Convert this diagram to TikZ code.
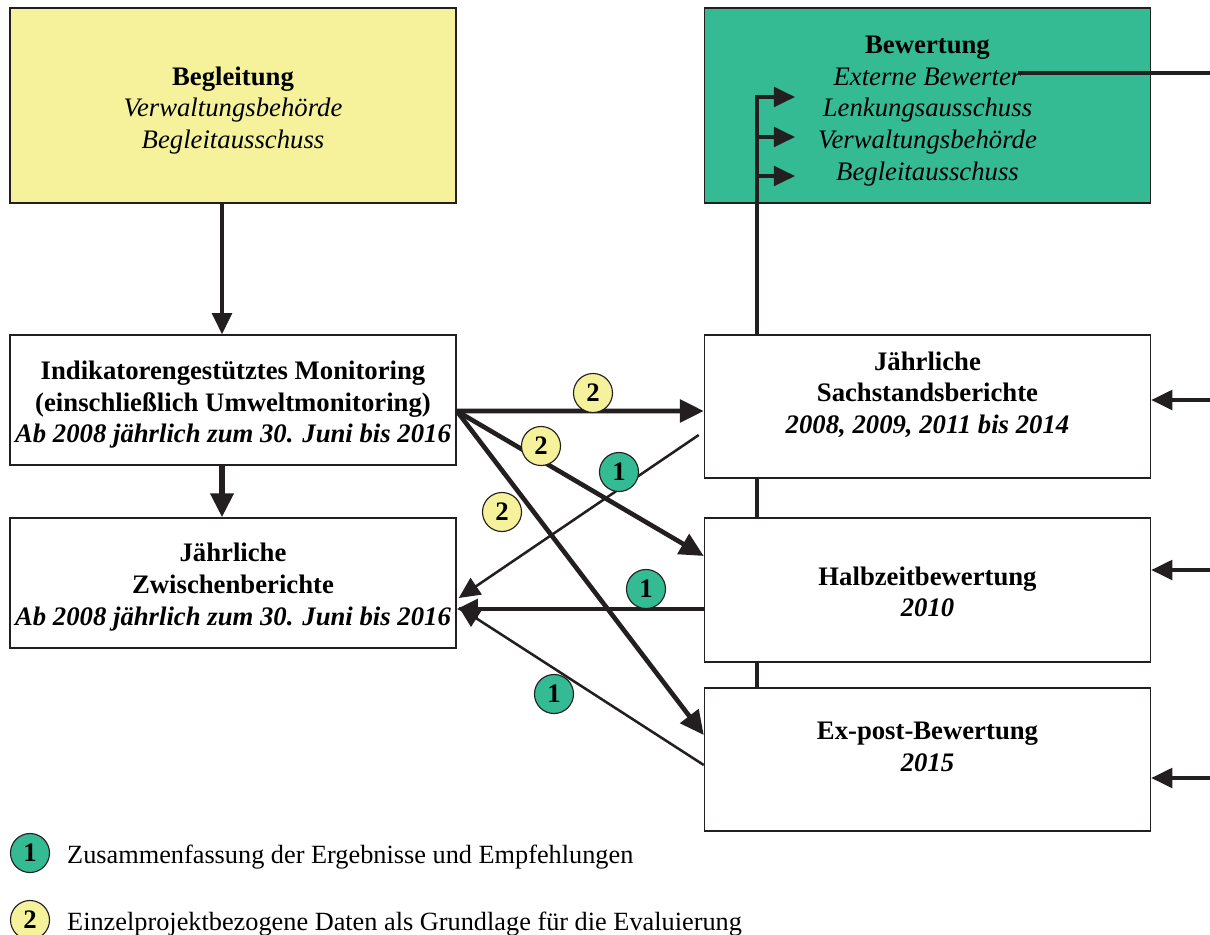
\documentclass[tikz,border=0pt]{standalone}
\usepackage{fontspec}
\setmainfont{Liberation Serif}
\usepackage{tikz}
\usetikzlibrary{arrows.meta, calc}
\definecolor{gelb}{HTML}{F6F29B}
\definecolor{gruen}{HTML}{34BB94}
\definecolor{strich}{HTML}{231F20}
\newcommand{\oben}[1]{\rule{0pt}{#1}}

\begin{document}
\begin{tikzpicture}[x=0.025cm, y=-0.025cm,
  box/.style={draw=strich, line width=1pt, fill=white, minimum width=11.15cm,
    align=center, inner sep=0pt, font=\fontsize{19}{22.5}\selectfont},
  badge/.style={circle, draw=strich, line width=0.8pt, minimum size=0.975cm,
    inner sep=0pt, font=\fontsize{19}{22}\selectfont\bfseries},
  pfeil/.style={-{Triangle[length=15pt,width=14pt]}, draw=strich, line width=2.3pt},
  dick/.style={-{Triangle[length=17pt,width=16pt]}, draw=strich, line width=3.3pt},
  duenn/.style={-{Triangle[length=15pt,width=14pt]}, draw=strich, line width=1.8pt},
  legende/.style={right=12pt, yshift=-3pt, inner sep=0pt, font=\fontsize{18.7}{22}\selectfont}]
  \useasboundingbox (0,0) rectangle (1210,934);

  % Drawing the boxes
  \node[box, fill=gelb, minimum height=4.875cm] (begleitung) at (233,105.5)
    {\oben{20pt}\textbf{Begleitung}\\ \textit{Verwaltungsbehörde}\\ \textit{Begleitausschuss}};
  \node[box, fill=gruen, minimum height=4.875cm] (bewertung) at (927.5,105.5)
    {\oben{20pt}\textbf{Bewertung}\\ \textit{Externe Bewerter}\\ \textit{Lenkungsausschuss}\\
     \textit{Verwaltungsbehörde}\\ \textit{Begleitausschuss}};
  \node[box, minimum height=3.25cm] (monitoring) at (233,400)
    {\oben{20pt}\textbf{Indikatorengestütztes Monitoring}\\ \textbf{(einschließlich Umweltmonitoring)}\\
     \textbf{\textit{Ab 2008 jährlich zum 30. Juni bis 2016}}};
  \node[box, minimum height=3.25cm] (zwischen) at (233,583)
    {\oben{19pt}\textbf{Jährliche}\\ \textbf{Zwischenberichte}\\
     \textbf{\textit{Ab 2008 jährlich zum 30. Juni bis 2016}}};
  \node[box, minimum height=3.575cm] (sachstand) at (927.5,406.5)
    {\oben{16pt}\textbf{Jährliche}\\ \textbf{Sachstandsberichte}\\
     \textbf{\textit{2008, 2009, 2011 bis 2014}}\\ \mbox{}};
  \node[box, minimum height=3.6cm] (halbzeit) at (927.5,590)
    {\oben{16pt}\textbf{Halbzeitbewertung}\\ \textbf{\textit{2010}}};
  \node[box, minimum height=3.575cm] (expost) at (927.5,759.5)
    {\oben{17pt}\textbf{Ex-post-Bewertung}\\ \textbf{\textit{2015}}\\ \mbox{}};

  % Begleitung -> Monitoring -> Zwischenberichte
  \draw[pfeil] ($(begleitung.south)+(-11,0)$) -- ($(monitoring.north)+(-11,0)$);
  \draw[dick, line width=3.8pt] ($(monitoring.south)+(-11,0)$) -- ($(zwischen.north)+(-11,0)$);

  % Daten aus dem Monitoring (2)
  \draw[dick] ($(monitoring.east)+(0,11)$) -- ($(sachstand.west)+(0,4.5)$);
  \draw[dick] ($(monitoring.east)+(0,11)$) -- ($(halbzeit.west)+(0,-34)$);
  \draw[dick] ($(monitoring.east)+(0,11)$) -- ($(expost.west)+(0,-24.5)$);

  % Ergebnisse zurueck (1)
  \draw[duenn] ($(sachstand.west)+(-5,28.5)$) -- ($(zwischen.east)+(2,15)$);
  \draw[pfeil, line width=2.8pt] ($(halbzeit.west)+(0,19)$) -- ($(zwischen.east)+(0,26)$);
  \draw[duenn] ($(expost.west)+(0,5.5)$) -- ($(zwischen.east)+(2,24)$);

  % Badges
  \foreach \x/\y [count=\i] in {593/393, 541/446, 502/512}
    \node[badge, fill=gelb] (daten\i) at (\x,\y) {2};
  \foreach \x/\y [count=\i] in {619/472, 646/589, 554/694}
    \node[badge, fill=gruen] (ergebnis\i) at (\x,\y) {1};

  % Stamm zur Bewertung
  \coordinate (stamm) at (757,97);
  \coordinate (lenkung) at (795,97);
  \coordinate (verwaltung) at (795,137);
  \coordinate (begleit) at (795,176);
  \draw[pfeil] (sachstand.north -| stamm) |- (lenkung);
  \foreach \ziel in {verwaltung, begleit}
    \draw[pfeil] (stamm |- \ziel) -- (\ziel);
  \draw[strich, line width=2.3pt] (sachstand.south -| stamm) -- (halbzeit.north -| stamm);
  \draw[strich, line width=2.3pt] (halbzeit.south -| stamm) -- (expost.north -| stamm);

  % Externe Bewerter nach rechts
  \coordinate (externe) at (1018,73);
  \coordinate (rand) at (1210,73);
  \draw[strich, line width=2.2pt] (externe) -- (rand);
  \foreach \ziel/\dy in {sachstand/-6.5, halbzeit/-20, expost/18.5}
    \draw[pfeil] ($(\ziel.east)+(60,\dy)$) -- ($(\ziel.east)+(0,\dy)$);

  % Legende
  \node[badge, fill=gruen] (leg1) at (30,853) {1};
  \node[badge, fill=gelb] (leg2) at (30,920) {2};
  \node[legende] (legtext1) at (leg1.east) {Zusammenfassung der Ergebnisse und Empfehlungen};
  \node[legende] (legtext2) at (leg2.east) {Einzelprojektbezogene Daten als Grundlage für die Evaluierung};
\end{tikzpicture}
\end{document}
